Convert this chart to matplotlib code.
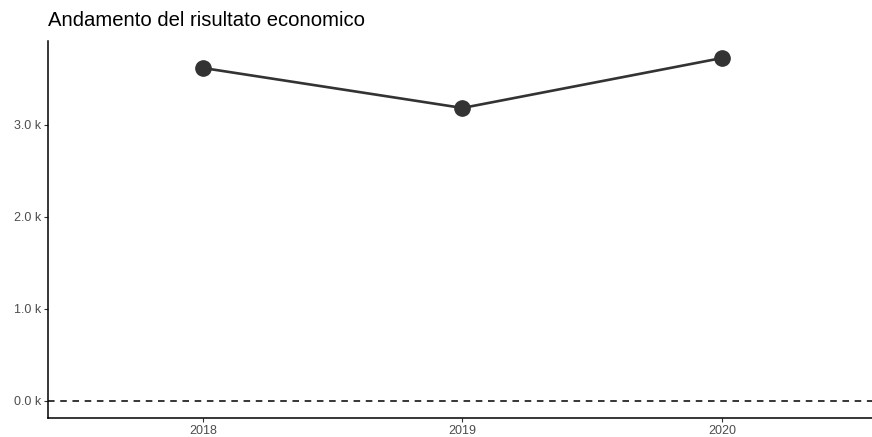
import matplotlib
matplotlib.use("Agg")
import matplotlib.pyplot as plt
from matplotlib.ticker import FuncFormatter

years = [2018, 2019, 2020]
values = [3620, 3185, 3728]
yticks = [0, 1000, 2000, 3000]
title = "Andamento del risultato economico"

plt.rcParams['font.family'] = ['Liberation Sans', 'DejaVu Sans']

fig = plt.figure(figsize=(8.72, 4.37), dpi=100)
W, H = 872, 437
ax = fig.add_axes([48 / W, (H - 418) / H, (872 - 48) / W, (418 - 41) / H])

ax.axhline(0, color='black', linestyle=(0, (4.3, 3.7)), linewidth=1.1, zorder=1)
ax.plot(years, values, color='#333333', linewidth=1.9, marker='o',
        markersize=11, zorder=3, solid_capstyle='round')

ax.set_xlim(2017.403, 2020.578)
ax.set_ylim(-185, 3913)
ax.set_xticks(years)
ax.set_xticklabels([str(y) for y in years])
ax.set_yticks(yticks)
ax.yaxis.set_major_formatter(FuncFormatter(lambda v, p: f"{v/1000:.1f} k"))

for s in ['top', 'right']:
    ax.spines[s].set_visible(False)
for s in ['left', 'bottom']:
    ax.spines[s].set_linewidth(1.1)
    ax.spines[s].set_color('black')
ax.tick_params(axis='both', length=3, width=0.8, color='#333333',
               labelcolor='#4D4D4D', labelsize=9, pad=2)

fig.text(48 / W, 1 - 21 / H, title, fontsize=14.6, color='black',
         ha='left', va='center')

fig.savefig("out.png", dpi=100)
